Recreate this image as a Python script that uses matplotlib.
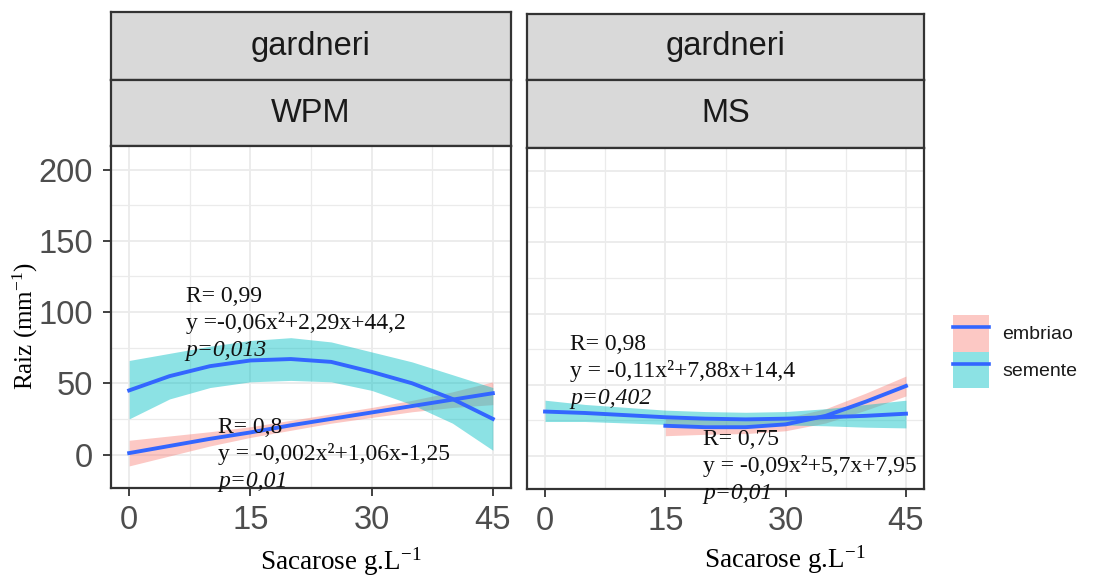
import matplotlib.pyplot as plt
from matplotlib.patches import Patch
from matplotlib.lines import Line2D

plt.rcParams['font.family'] = ['Liberation Sans', 'DejaVu Sans']
plt.rcParams['mathtext.fontset'] = 'custom'
plt.rcParams['mathtext.rm'] = 'Liberation Serif'
plt.rcParams['mathtext.it'] = 'Liberation Serif:italic'

# values
especie = 'gardneri'
meios = ['WPM', 'MS']
grupos = ['embriao', 'semente']
x_ticks = [0, 15, 30, 45]
y_ticks = [0, 50, 100, 150, 200]

sacarose = [0, 5, 10, 15, 20, 25, 30, 35, 40, 45]
wpm_embriao = [1, 6, 11, 15.5, 20.5, 25, 29.5, 34, 38.5, 43]
wpm_embriao_lo = [-8, -1, 6, 12, 17, 22, 26, 30, 33, 35]
wpm_embriao_hi = [10, 13, 16, 19.5, 24, 28.5, 33, 38, 44, 51]
wpm_semente = [45, 55, 62, 66, 67, 65, 58, 50, 39, 25]
wpm_semente_lo = [25, 39, 47, 51, 52, 51, 45, 35, 22, 3]
wpm_semente_hi = [66, 71, 76, 80, 82, 79, 72, 65, 56, 47]

sacarose_ms_embriao = [15, 20, 25, 30, 35, 40, 45]
ms_embriao = [21, 20, 20, 22, 28, 38, 49]
ms_embriao_lo = [14, 15, 15.5, 17.5, 23, 32, 42]
ms_embriao_hi = [28, 25, 24.5, 26.5, 33, 44, 56]
ms_semente = [31, 30, 28.5, 27, 26, 25.5, 26, 27, 28, 29.5]
ms_semente_lo = [24, 24, 23, 22, 21.5, 21, 21.5, 21, 20, 19.5]
ms_semente_hi = [39, 36, 34, 32, 31, 30.5, 31, 33, 36, 39]

wpm_notas = [['R= 0,99', 'y =-0,06x²+2,29x+44,2', 'p=0,013'],
             ['R= 0,8', 'y = -0,002x²+1,06x-1,25', 'p=0,01']]
ms_notas = [['R= 0,98', 'y = -0,11x²+7,88x+14,4', 'p=0,402'],
            ['R= 0,75', 'y = -0,09x²+5,7x+7,95', 'p=0,01']]

W, H = 1093, 582
cor_linha = '#3366FF'
cor_embriao = '#F8766D'
cor_semente = '#00BFC4'
borda = '#333333'


def box(left, top, right, bottom):
    return [left / W, 1 - bottom / H, (right - left) / W, (bottom - top) / H]


def strip(fig, left, top, right, bottom, label):
    s = fig.add_axes(box(left, top, right, bottom))
    s.set_facecolor('#D9D9D9')
    s.set_xticks([])
    s.set_yticks([])
    for sp in s.spines.values():
        sp.set_color(borda)
        sp.set_linewidth(1.6)
    s.text(0.5, 0.5, label, ha='center', va='center', fontsize=23.5,
           color='#1A1A1A', transform=s.transAxes)


def panel(fig, rect, show_y):
    ax = fig.add_axes(rect)
    ax.set_xlim(-2.25, 47.25)
    ax.set_ylim(-23.5, 216.5)
    ax.set_xticks(x_ticks)
    ax.set_yticks(y_ticks)
    ax.set_xticks([7.5, 22.5, 37.5], minor=True)
    ax.set_yticks([25, 75, 125, 175], minor=True)
    ax.grid(True, which='major', color='#EBEBEB', linewidth=1.3)
    ax.grid(True, which='minor', color='#EBEBEB', linewidth=0.9)
    ax.set_axisbelow(True)
    ax.tick_params(which='major', length=6, width=1.3, color=borda,
                   labelsize=23.5, labelcolor='#4D4D4D', pad=6)
    ax.tick_params(axis='y', pad=7)
    ax.tick_params(which='minor', length=0)
    if not show_y:
        ax.tick_params(axis='y', which='both', left=False, labelleft=False)
    for sp in ax.spines.values():
        sp.set_color(borda)
        sp.set_linewidth(1.6)
    return ax


def notas(ax, x, y, linhas):
    kw = dict(family='Liberation Serif', fontsize=17, va='center',
              color='#111111', clip_on=False, zorder=5)
    ax.text(x, y, linhas[0], **kw)
    ax.text(x, y - 18.5, linhas[1], **kw)
    ax.text(x, y - 38, linhas[2], style='italic', **kw)


fig = plt.figure(figsize=(W / 100, H / 100), dpi=100)

# WPM
strip(fig, 111, 12, 511, 80, especie)
strip(fig, 111, 80, 511, 146, meios[0])
ax1 = panel(fig, box(111, 146, 511, 488), True)
ax1.fill_between(sacarose, wpm_embriao_lo, wpm_embriao_hi,
                 color=cor_embriao, alpha=0.4, linewidth=0)
ax1.fill_between(sacarose, wpm_semente_lo, wpm_semente_hi,
                 color=cor_semente, alpha=0.45, linewidth=0)
ax1.plot(sacarose, wpm_embriao, color=cor_linha, lw=2.8)
ax1.plot(sacarose, wpm_semente, color=cor_linha, lw=2.8)
notas(ax1, 7.0, 111, wpm_notas[0])
notas(ax1, 11.0, 19, wpm_notas[1])

# MS
strip(fig, 527, 14, 924, 80, especie)
strip(fig, 527, 80, 924, 148, meios[1])
ax2 = panel(fig, box(527, 148, 924, 489), False)
ax2.fill_between(sacarose_ms_embriao, ms_embriao_lo, ms_embriao_hi,
                 color=cor_embriao, alpha=0.4, linewidth=0)
ax2.fill_between(sacarose, ms_semente_lo, ms_semente_hi,
                 color=cor_semente, alpha=0.45, linewidth=0)
ax2.plot(sacarose_ms_embriao, ms_embriao, color=cor_linha, lw=2.8)
ax2.plot(sacarose, ms_semente, color=cor_linha, lw=2.8)
notas(ax2, 3.1, 78, ms_notas[0])
notas(ax2, 19.7, 11.5, ms_notas[1])

fig.text(25 / W, 1 - 326 / H, 'Raiz (mm$^{-1}$)', rotation=90,
         family='Liberation Serif', fontsize=18, ha='center', va='center')
fig.text(341 / W, 1 - 562 / H, 'Sacarose g.L$^{-1}$',
         family='Liberation Serif', fontsize=19.5, ha='center', va='center')
fig.text(785 / W, 1 - 560 / H, 'Sacarose g.L$^{-1}$',
         family='Liberation Serif', fontsize=19.5, ha='center', va='center')

handles = [(Patch(facecolor=cor_embriao, alpha=0.4, linewidth=0),
            Line2D([], [], color=cor_linha, lw=2.6)),
           (Patch(facecolor=cor_semente, alpha=0.45, linewidth=0),
            Line2D([], [], color=cor_linha, lw=2.6))]
fig.legend(handles, grupos, loc='center left',
           bbox_to_anchor=(953 / W, 1 - 351.5 / H), frameon=False,
           fontsize=14, handlelength=1.85, handleheight=2.5,
           labelspacing=0, borderpad=0, borderaxespad=0, handletextpad=0.7,
           labelcolor='#1A1A1A')

fig.savefig('out.png', dpi=100)
